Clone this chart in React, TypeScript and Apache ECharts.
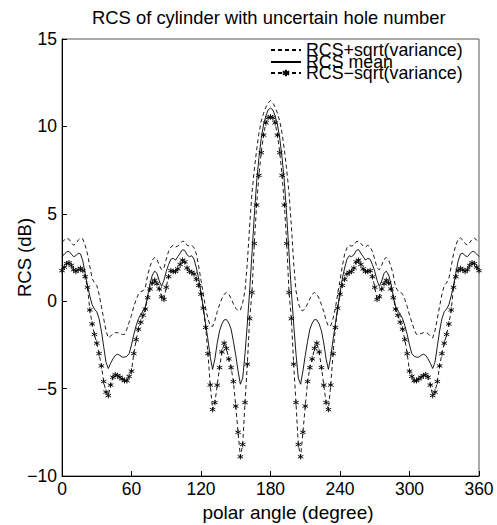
import React, { useEffect, useRef } from "react";
import * as echarts from "echarts";

// Polar angle step (degrees) of the sampled values below; curves are symmetric about 180°.
const STEP = 2;

// RCS mean (dB), 0°..180°
const meanHalf = [
  2.55, 2.7, 2.82, 2.85, 2.7, 2.55, 2.6, 2.75, 2.7, 2.3,
  1.6, 0.9, 0.3, -0.2, -0.45, -0.6, -1.0, -1.7, -2.6, -3.5,
  -3.85, -3.55, -3.3, -3.1, -3.03, -3.1, -3.2, -3.2, -3.15, -3.0,
  -2.5, -1.9, -1.4, -1.0, -0.75, -0.55, -0.3, 0.3, 1.0, 1.5,
  1.72, 1.6, 1.15, 0.85, 1.2, 1.7, 2.1, 2.4, 2.45, 2.35,
  2.55, 2.75, 2.95, 2.9, 2.65, 2.55, 2.6, 2.4, 1.9, 1.3,
  0.5, -0.4, -1.3, -2.2, -3.2, -3.9, -3.3, -2.4, -1.7, -1.3,
  -1.07, -1.05, -1.25, -1.6, -2.3, -3.1, -4.0, -4.75, -4.4, -3.0,
  -1.3, 0.6, 2.7, 4.9, 6.8, 8.2, 9.3, 10.1, 10.6, 10.95,
  11.05,
];

// RCS + sqrt(variance) (dB), 0°..180°
const upperHalf = [
  3.38, 3.5, 3.6, 3.55, 3.35, 3.2, 3.3, 3.5, 3.62, 3.55,
  3.2, 2.7, 2.0, 1.3, 1.05, 0.9, 0.4, -0.3, -1.0, -1.7,
  -2.1, -2.0, -1.85, -1.8, -1.8, -1.85, -1.9, -1.9, -1.6, -1.2,
  -0.8, -0.3, 0.1, 0.4, 0.55, 0.6, 0.8, 1.5, 2.0, 2.35,
  2.5, 2.4, 2.05, 1.8, 1.9, 2.4, 2.85, 3.1, 3.2, 3.1,
  3.15, 3.3, 3.44, 3.4, 3.2, 3.15, 3.2, 3.05, 2.7, 2.0,
  1.2, 0.4, -0.4, -1.0, -1.4, -1.45, -1.1, -0.6, -0.2, 0.15,
  0.4, 0.5, 0.4, 0.15, -0.15, -0.4, -0.55, -0.5, -0.1, 0.6,
  2.2, 4.3, 6.2, 7.5, 8.65, 9.6, 10.3, 10.75, 11.1, 11.35,
  11.47,
];

// RCS - sqrt(variance) (dB), 0°..180°
const lowerHalf = [
  1.75, 1.95, 2.15, 2.2, 2.05, 1.8, 1.7, 1.8, 1.88, 1.75,
  1.4, 0.8, -0.5, -1.3, -1.9, -2.4, -3.0, -3.7, -4.6, -5.2,
  -5.4, -4.8, -4.35, -4.2, -4.25, -4.35, -4.45, -4.55, -4.55, -4.3,
  -4.0, -3.0, -2.2, -1.6, -1.2, -0.8, -0.45, 0.2, 0.7, 1.05,
  1.2, 1.0, 0.7, 0.25, 0.1, 0.8, 1.4, 1.75, 1.7, 1.7,
  1.85, 2.1, 2.35, 2.25, 1.9, 1.7, 1.65, 1.55, 1.25, 0.9,
  0.4, -0.4, -1.5, -3.0, -4.8, -6.2, -5.8, -4.8, -3.8, -2.9,
  -2.4, -2.7, -3.3, -3.8, -4.6, -6.0, -7.5, -8.9, -8.2, -5.8,
  -3.6, -1.0, 0.5, 3.3, 5.5, 7.2, 8.5, 9.5, 10.2, 10.5,
  10.55,
];

const seriesNames = ["RCS+sqrt(variance)", "RCS mean", "RCS\u2212sqrt(variance)"];

function fullCurve(half: number[]): [number, number][] {
  const pts: [number, number][] = half.map((v, i) => [i * STEP, v]);
  for (let i = half.length - 2; i >= 0; i--) pts.push([360 - i * STEP, half[i]]);
  return pts;
}

const FONT = "'Liberation Sans', Arial, Helvetica, sans-serif";
const ASTERISK = "path://M0,-1L0,1M-0.87,-0.5L0.87,0.5M-0.87,0.5L0.87,-0.5";
const HIDDEN_SYMBOL = { color: "rgba(0,0,0,0)", borderWidth: 0, opacity: 0 };

export default function App() {
  const ref = useRef<HTMLDivElement>(null);
  useEffect(() => {
    if (!ref.current) return;
    const chart = echarts.init(ref.current, null, { renderer: "svg" });
    const dash = [4, 3];
    const legendTops = [41, 53, 64];
    const legends = seriesNames.map((name, i) => ({
      orient: "vertical",
      left: 270,
      top: legendTops[i],
      padding: 0,
      itemGap: 0,
      itemWidth: 30,
      itemHeight: 8,
      align: "left",
      selectedMode: false,
      textStyle: { fontSize: 17.8, color: "#000", fontFamily: FONT },
      data: [i < 2 ? { name, itemStyle: HIDDEN_SYMBOL } : { name }],
    }));
    chart.setOption({
      animation: false,
      backgroundColor: "#fff",
      textStyle: { fontFamily: FONT },
      title: {
        text: "RCS of cylinder with uncertain hole number",
        left: 92,
        top: 8,
        padding: 0,
        textStyle: { fontSize: 18.4, fontWeight: "normal", color: "#000", fontFamily: FONT },
      },
      legend: legends,
      grid: {
        left: 62,
        right: 18,
        top: 39,
        bottom: 49,
        containLabel: false,
        outerBoundsMode: "none",
        show: true,
        borderColor: "#555",
        borderWidth: 1,
        backgroundColor: "transparent",
      },
      xAxis: {
        type: "value",
        min: 0,
        max: 360,
        interval: 60,
        name: "polar angle (degree)",
        nameLocation: "middle",
        nameGap: 27,
        nameMoveOverlap: false,
        nameTextStyle: { fontSize: 19, color: "#000", fontFamily: FONT, padding: [0, 0, 0, 35] },
        axisLine: { onZero: false, lineStyle: { color: "#000", width: 1 } },
        axisTick: { inside: true, length: 5, lineStyle: { color: "#000" } },
        axisLabel: { fontSize: 17.5, color: "#000", margin: 4, fontFamily: FONT },
        splitLine: { show: false },
      },
      yAxis: {
        type: "value",
        min: -10,
        max: 15,
        interval: 5,
        name: "RCS (dB)",
        nameLocation: "middle",
        nameGap: 28,
        nameMoveOverlap: false,
        nameTextStyle: { fontSize: 18.5, color: "#000", fontFamily: FONT },
        axisLine: { show: true, onZero: false, lineStyle: { color: "#000", width: 1 } },
        axisTick: { show: true, inside: true, length: 5, lineStyle: { color: "#000" } },
        axisLabel: {
          fontSize: 17.5,
          color: "#000",
          margin: 5,
          fontFamily: FONT,
          formatter: (v: number) => (v < 0 ? "\u2212" + Math.abs(v) : String(v)),
        },
        splitLine: { show: false },
      },
      series: [
        {
          name: seriesNames[0],
          type: "line",
          data: fullCurve(upperHalf),
          symbol: "none",
          silent: true,
          lineStyle: { color: "#000", width: 0.9, type: dash },
          itemStyle: { color: "#000" },
        },
        {
          name: seriesNames[1],
          type: "line",
          data: fullCurve(meanHalf),
          symbol: "none",
          silent: true,
          lineStyle: { color: "#000", width: 0.9, type: "solid" },
          itemStyle: { color: "#000" },
        },
        {
          name: seriesNames[2],
          type: "line",
          data: fullCurve(lowerHalf),
          symbol: ASTERISK,
          symbolSize: 5.5,
          showSymbol: true,
          showAllSymbol: true,
          silent: true,
          lineStyle: { color: "#000", width: 0.9, type: dash },
          itemStyle: { color: "#000", borderColor: "#000", borderWidth: 0.9 },
        },
      ],
    });
    return () => chart.dispose();
  }, []);
  return (
    <div
      ref={ref}
      style={{ position: "fixed", left: 0, top: 0, width: 497, height: 525, background: "#fff" }}
    />
  );
}
